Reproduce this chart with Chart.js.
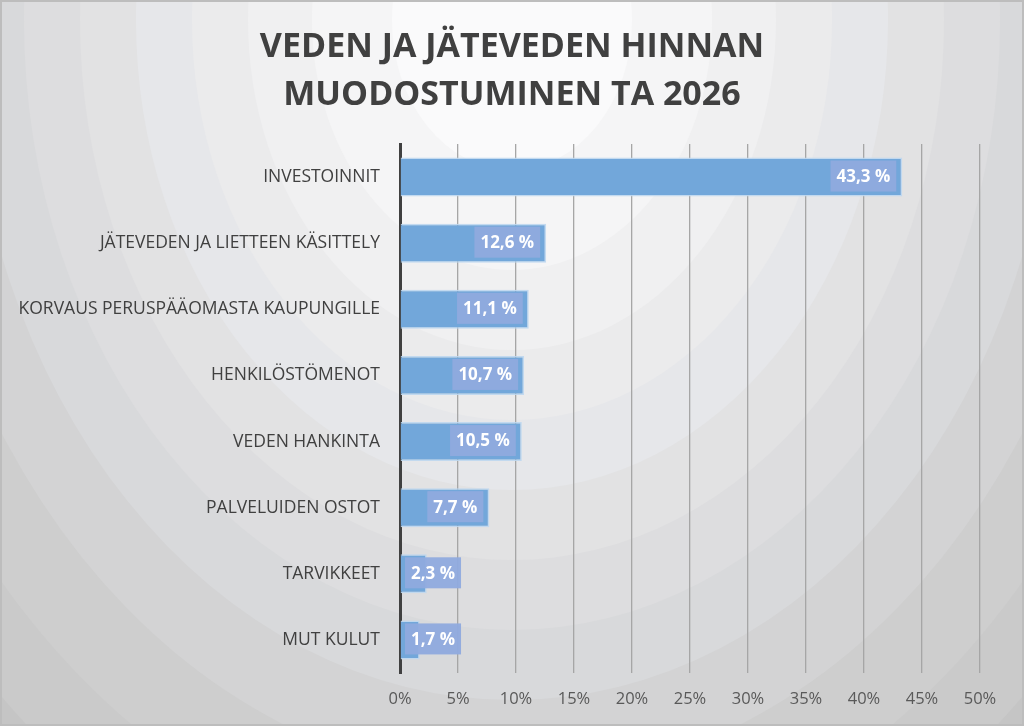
<!DOCTYPE html>
<html>
<head>
<meta charset="utf-8">
<script src="https://cdn.jsdelivr.net/npm/chart.js@4.4.1/dist/chart.umd.min.js"></script>
<style>
  html, body { margin: 0; padding: 0; background: #d0d0d0; }
  #kaavio { display: block; }
</style>
</head>
<body>
<canvas id="kaavio" width="1024" height="726"></canvas>
<script>
// Kategoriat ja osuudet (%)
const kategoriat = [
  'INVESTOINNIT',
  'JÄTEVEDEN JA LIETTEEN KÄSITTELY',
  'KORVAUS PERUSPÄÄOMASTA KAUPUNGILLE',
  'HENKILÖSTÖMENOT',
  'VEDEN HANKINTA',
  'PALVELUIDEN OSTOT',
  'TARVIKKEET',
  'MUT KULUT'
];
const osuudet = [43.3, 12.6, 11.1, 10.7, 10.5, 7.7, 2.3, 1.7];
const otsikko = ['VEDEN JA JÄTEVEDEN HINNAN', 'MUODOSTUMINEN TA 2026'];

// taustan renkaat: säde (pystysuunnassa) ja väri
const renkaat = [
  [150, '#fafafb'], [250, '#f5f5f6'], [330, '#f0f0f1'], [400, '#ebebec'],
  [470, '#e6e7ea'], [540, '#e2e2e3'], [610, '#dddddf'], [680, '#d8d9db'],
  [760, '#d3d3d4'], [850, '#cecece'], [930, '#cacaca'], [2000, '#c5c5c5']
];

const tausta = {
  id: 'tausta',
  beforeDraw(chart) {
    const ctx = chart.ctx;
    const w = chart.width, h = chart.height;
    ctx.save();
    for (let i = renkaat.length - 1; i >= 0; i--) {
      ctx.save();
      ctx.translate(512, 20);
      ctx.scale(0.8, 1);
      ctx.beginPath();
      ctx.arc(0, 0, renkaat[i][0], 0, Math.PI * 2);
      ctx.restore();
      ctx.fillStyle = renkaat[i][1];
      ctx.fill();
    }
    ctx.strokeStyle = '#bdbdbd';
    ctx.lineWidth = 2;
    ctx.strokeRect(1, 1, w - 2, h - 2);

    // otsikko keskelle koko kuvaa
    ctx.fillStyle = '#404040';
    ctx.font = 'bold 34px "Open Sans"';
    ctx.textAlign = 'center';
    ctx.textBaseline = 'middle';
    otsikko.forEach((rivi, i) => ctx.fillText(rivi, w / 2, 47 + i * 48));
    ctx.restore();
  }
};

const arvolaatikot = {
  id: 'arvolaatikot',
  afterDatasetsDraw(chart) {
    const ctx = chart.ctx;
    const meta = chart.getDatasetMeta(0);
    const pohja = chart.scales.x.getPixelForValue(0);
    ctx.save();
    ctx.font = 'bold 17px "Open Sans"';
    ctx.textAlign = 'center';
    ctx.textBaseline = 'middle';
    meta.data.forEach((bar, i) => {
      const teksti = osuudet[i].toFixed(1).replace('.', ',') + ' %';
      const lw = ctx.measureText(teksti).width + 12;
      const lh = 31;
      let x1 = bar.x - 6 - lw;
      if (x1 < pohja + 5) x1 = pohja + 5;
      const y1 = bar.y - lh / 2 - 1;
      ctx.fillStyle = 'rgba(143,170,222,0.95)';
      ctx.fillRect(x1, y1, lw, lh);
      ctx.fillStyle = '#ffffff';
      ctx.fillText(teksti, x1 + lw / 2, y1 + lh / 2 + 1);
    });
    ctx.restore();
  }
};

new Chart(document.getElementById('kaavio'), {
  type: 'bar',
  data: {
    labels: kategoriat,
    datasets: [{
      data: osuudet,
      backgroundColor: 'rgb(114,167,218)',
      borderColor: 'rgba(190,215,240,0.9)',
      borderWidth: 1.5,
      borderSkipped: 'left',
      barPercentage: 0.59,
      categoryPercentage: 1
    }]
  },
  options: {
    indexAxis: 'y',
    responsive: false,
    devicePixelRatio: 1,
    animation: false,
    layout: { padding: { left: 0, right: 44, top: 144, bottom: 0 } },
    plugins: {
      legend: { display: false },
      tooltip: { enabled: false },
      title: { display: false }
    },
    scales: {
      x: {
        min: 0,
        max: 50,
        ticks: {
          stepSize: 5,
          color: '#595959',
          font: { family: '"Open Sans"', size: 16.5 },
          padding: 16,
          callback: v => v + '%'
        },
        grid: { color: '#a6a6a6', lineWidth: 1.3, drawTicks: false },
        border: { display: false },
        afterFit(s) { s.height = 53; }
      },
      y: {
        ticks: {
          color: '#404040',
          font: { family: '"Open Sans"', size: 17.5 },
          padding: 20
        },
        grid: { display: false, drawTicks: false },
        border: { color: '#404040', width: 3 },
        afterFit(s) { s.width = 400; }
      }
    }
  },
  plugins: [tausta, arvolaatikot]
});
</script>
</body>
</html>
